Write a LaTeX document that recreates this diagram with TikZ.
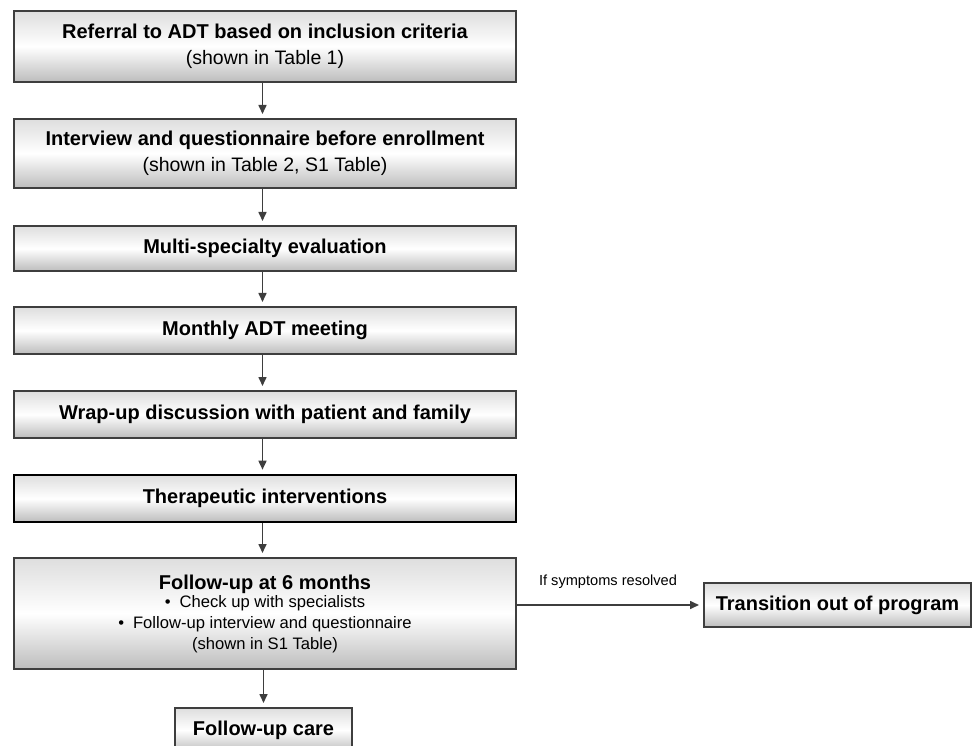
\documentclass[tikz,border=0pt]{standalone}
\usepackage{fontspec}
\setmainfont{Liberation Sans}
\usetikzlibrary{arrows.meta}
\definecolor{edgegray}{HTML}{3E3E3E}
\newcommand{\tb}[1]{{\fontsize{20}{26}\selectfont\bfseries #1}}
\tikzset{
  box/.style={draw=edgegray, line width=2pt, top color=black!13, bottom color=black!26, middle color=white,
    inner sep=0pt, align=center, minimum width=502pt, font=\fontsize{19.5}{26}\selectfont},
  thickbox/.style={box, draw=black, line width=2.6pt},
  arr/.style={draw=edgegray, line width=1.6pt, -{Triangle[length=9pt,width=8pt]}, shorten >=4pt},
  lbl/.style={inner sep=0pt, font=\fontsize{14.6}{18}\selectfont}
}
\begin{document}
\begin{tikzpicture}[x=1pt,y=-1pt]
\useasboundingbox (0,0) rectangle (975,746);
\clip (0,0) rectangle (975,746);
\node[box, minimum height=71pt] (b1) at (265,46.5) {\tb{Referral to ADT based on inclusion criteria}\\(shown in Table 1)};
\node[box, minimum height=69pt] (b2) at (265,153.5) {\tb{Interview and questionnaire before enrollment}\\(shown in Table 2, S1 Table)};
\node[box, minimum height=45pt] (b3) at (265,248.5) {\tb{Multi-specialty evaluation}};
\node[box, minimum height=47pt] (b4) at (265,330.5) {\tb{Monthly ADT meeting}};
\node[box, minimum height=47pt] (b5) at (265,414.5) {\tb{Wrap-up discussion with patient and family}};
\node[thickbox, minimum height=47pt] (b6) at (265,498.5) {\tb{Therapeutic interventions}};
\node[box, minimum height=111pt, font=\fontsize{16.6}{21}\selectfont] (b7) at (265,613.5)
  {\tb{Follow-up at 6 months}\\[-3pt]
   •\hspace{9pt}Check up with specialists\\
   •\hspace{9pt}Follow-up interview and questionnaire\\
   (shown in S1 Table)};
\node[box, minimum width=177pt, minimum height=44pt] (fc) at (263.5,730) {\tb{Follow-up care}};
\node[box, minimum width=267pt, minimum height=44pt] (tr) at (837.5,605) {\tb{Transition out of program}};
\node[lbl] (lab) at (608,582) {If symptoms resolved};
\draw[arr] ([xshift=-2.5pt]b1.south) -- ([xshift=-2.5pt]b2.north);
\draw[arr] ([xshift=-2.5pt]b2.south) -- ([xshift=-2.5pt]b3.north);
\draw[arr] ([xshift=-2.5pt]b3.south) -- ([xshift=-2.5pt]b4.north);
\draw[arr] ([xshift=-2.5pt]b4.south) -- ([xshift=-2.5pt]b5.north);
\draw[arr] ([xshift=-2.5pt]b5.south) -- ([xshift=-2.5pt]b6.north);
\draw[arr] ([xshift=-2.5pt]b6.south) -- ([xshift=-2.5pt]b7.north);
\draw[arr] ([xshift=-2.5pt]b7.south) -- (b7.south -| fc.north) -- (fc.north);
\draw[arr] (b7.east |- tr.west) -- (tr.west);
\end{tikzpicture}
\end{document}
